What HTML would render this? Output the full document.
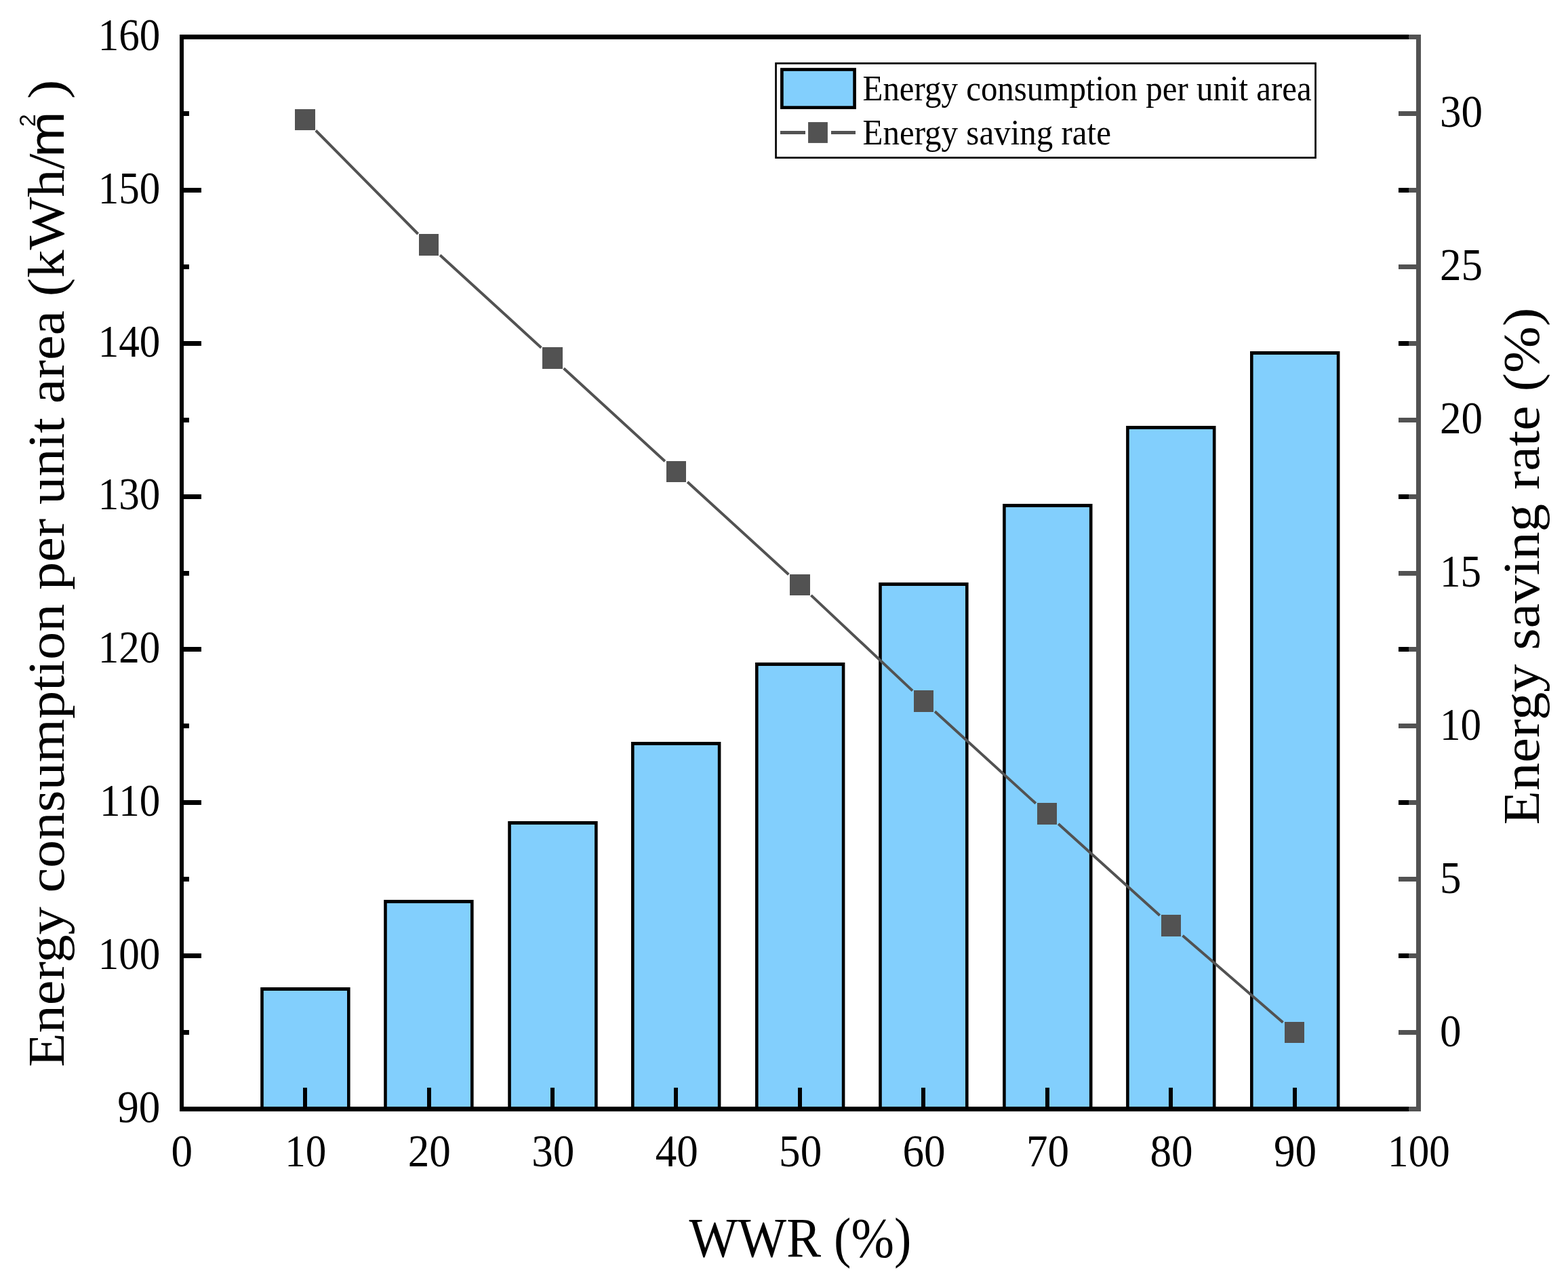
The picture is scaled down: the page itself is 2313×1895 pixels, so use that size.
<!DOCTYPE html><html><head><meta charset="utf-8"><title>WWR chart</title><style>
html,body{margin:0;padding:0;background:#fff;}svg{display:block;}
text{font-family:"Liberation Serif","Times New Roman",serif;fill:#000;}
.sans{font-family:"Liberation Sans",Arial,sans-serif;}
</style></head><body>
<svg width="2313" height="1895" viewBox="0 0 2313 1895">
<rect x="0" y="0" width="2313" height="1895" fill="#fff"/>
<rect x="384.2" y="1456" width="132.4" height="180" fill="#000"/>
<rect x="388.8" y="1461" width="123.2" height="175" fill="#82cffd"/>
<rect x="566.2" y="1327" width="132.4" height="309" fill="#000"/>
<rect x="570.8" y="1332" width="123.2" height="304" fill="#82cffd"/>
<rect x="749.25" y="1211" width="132.4" height="425" fill="#000"/>
<rect x="753.85" y="1216" width="123.2" height="420" fill="#82cffd"/>
<rect x="931" y="1094" width="132.4" height="542" fill="#000"/>
<rect x="935.6" y="1099" width="123.2" height="537" fill="#82cffd"/>
<rect x="1114" y="977" width="132.4" height="659" fill="#000"/>
<rect x="1118.6" y="982" width="123.2" height="654" fill="#82cffd"/>
<rect x="1296.2" y="859" width="132.4" height="777" fill="#000"/>
<rect x="1300.8" y="864" width="123.2" height="772" fill="#82cffd"/>
<rect x="1479.1" y="743" width="132.4" height="893" fill="#000"/>
<rect x="1483.7" y="748" width="123.2" height="888" fill="#82cffd"/>
<rect x="1661.1" y="628" width="132.4" height="1008" fill="#000"/>
<rect x="1665.7" y="633" width="123.2" height="1003" fill="#82cffd"/>
<rect x="1844" y="518" width="132.4" height="1118" fill="#000"/>
<rect x="1848.6" y="523" width="123.2" height="1113" fill="#82cffd"/>
<rect x="447" y="1604" width="6" height="28" fill="#000"/>
<rect x="630" y="1604" width="6" height="28" fill="#000"/>
<rect x="812" y="1604" width="6" height="28" fill="#000"/>
<rect x="994" y="1604" width="6" height="28" fill="#000"/>
<rect x="1177" y="1604" width="6" height="28" fill="#000"/>
<rect x="1359" y="1604" width="6" height="28" fill="#000"/>
<rect x="1542" y="1604" width="6" height="28" fill="#000"/>
<rect x="1724" y="1604" width="6" height="28" fill="#000"/>
<rect x="1907" y="1604" width="6" height="28" fill="#000"/>
<path d="M465.82 192.5L616.68 345M649.1 376.19L798.4 512.81M831.58 543.21L980.92 680.29M1014.1 710.69L1163.4 847.31M1196.4 877.91L1346.1 1018.59M1379.12 1049.16L1527.88 1184.84M1561.21 1215.07L1710.79 1349.93M1744.51 1379.72L1892.49 1507.78" stroke="#525252" stroke-width="4" fill="none" stroke-linecap="butt"/>
<rect x="435" y="161" width="30" height="31" fill="#525252"/>
<rect x="618" y="345" width="29" height="32" fill="#525252"/>
<rect x="800" y="512" width="30" height="32" fill="#525252"/>
<rect x="983" y="680" width="29" height="31" fill="#525252"/>
<rect x="1165" y="847" width="30" height="31" fill="#525252"/>
<rect x="1348" y="1018" width="29" height="32" fill="#525252"/>
<rect x="1530" y="1184" width="29" height="32" fill="#525252"/>
<rect x="1713" y="1349" width="29" height="32" fill="#525252"/>
<rect x="1895" y="1507" width="29" height="31" fill="#525252"/>
<rect x="265" y="51" width="6" height="1588" fill="#000"/>
<rect x="265" y="51" width="1813" height="7" fill="#000"/>
<rect x="265" y="1632" width="1813" height="7" fill="#000"/>
<rect x="2078" y="51" width="18" height="7" fill="#525252"/>
<rect x="2078" y="1632" width="18" height="7" fill="#525252"/>
<rect x="2089" y="51" width="7" height="1588" fill="#525252"/>
<rect x="265" y="1632" width="32" height="7" fill="#000"/>
<rect x="2063" y="1632" width="33" height="7" fill="#000"/>
<rect x="265" y="1519" width="14" height="7" fill="#000"/>
<rect x="265" y="1406" width="32" height="7" fill="#000"/>
<rect x="2063" y="1406" width="33" height="7" fill="#000"/>
<rect x="265" y="1293" width="14" height="7" fill="#000"/>
<rect x="265" y="1180" width="32" height="7" fill="#000"/>
<rect x="2063" y="1180" width="33" height="7" fill="#000"/>
<rect x="265" y="1067" width="14" height="7" fill="#000"/>
<rect x="265" y="954" width="32" height="7" fill="#000"/>
<rect x="2063" y="954" width="33" height="7" fill="#000"/>
<rect x="265" y="842" width="14" height="7" fill="#000"/>
<rect x="265" y="729" width="32" height="7" fill="#000"/>
<rect x="2063" y="729" width="33" height="7" fill="#000"/>
<rect x="265" y="616" width="14" height="7" fill="#000"/>
<rect x="265" y="503" width="32" height="7" fill="#000"/>
<rect x="2063" y="503" width="33" height="7" fill="#000"/>
<rect x="265" y="390" width="14" height="7" fill="#000"/>
<rect x="265" y="277" width="32" height="7" fill="#000"/>
<rect x="2063" y="277" width="33" height="7" fill="#000"/>
<rect x="265" y="164" width="14" height="7" fill="#000"/>
<rect x="265" y="51" width="32" height="7" fill="#000"/>
<rect x="2063" y="51" width="33" height="7" fill="#000"/>
<rect x="2078" y="1632" width="18" height="7" fill="#525252"/>
<rect x="2063" y="1519" width="33" height="7" fill="#525252"/>
<rect x="2078" y="1406" width="18" height="7" fill="#525252"/>
<rect x="2063" y="1293" width="33" height="7" fill="#525252"/>
<rect x="2078" y="1180" width="18" height="7" fill="#525252"/>
<rect x="2063" y="1067" width="33" height="7" fill="#525252"/>
<rect x="2078" y="954" width="18" height="7" fill="#525252"/>
<rect x="2063" y="842" width="33" height="7" fill="#525252"/>
<rect x="2078" y="729" width="18" height="7" fill="#525252"/>
<rect x="2063" y="616" width="33" height="7" fill="#525252"/>
<rect x="2078" y="503" width="18" height="7" fill="#525252"/>
<rect x="2063" y="390" width="33" height="7" fill="#525252"/>
<rect x="2078" y="277" width="18" height="7" fill="#525252"/>
<rect x="2063" y="164" width="33" height="7" fill="#525252"/>
<rect x="2078" y="51" width="18" height="7" fill="#525252"/>
<text transform="translate(236.36,1654.92) scale(0.9250,1.0000)" font-size="68.3" text-anchor="end">90</text>
<text transform="translate(236.36,1429.06) scale(0.8950,1.0000)" font-size="68.3" text-anchor="end">100</text>
<text transform="translate(236.36,1203.20) scale(0.8950,1.0000)" font-size="68.3" text-anchor="end">110</text>
<text transform="translate(236.36,977.34) scale(0.8950,1.0000)" font-size="68.3" text-anchor="end">120</text>
<text transform="translate(236.36,751.48) scale(0.8950,1.0000)" font-size="68.3" text-anchor="end">130</text>
<text transform="translate(236.36,525.62) scale(0.8950,1.0000)" font-size="68.3" text-anchor="end">140</text>
<text transform="translate(236.36,299.76) scale(0.8950,1.0000)" font-size="68.3" text-anchor="end">150</text>
<text transform="translate(236.36,73.90) scale(0.8950,1.0000)" font-size="68.3" text-anchor="end">160</text>
<text transform="translate(2123.96,1542.50) scale(0.9250,1.0000)" font-size="68.3" text-anchor="start">0</text>
<text transform="translate(2123.96,1316.65) scale(0.9250,1.0000)" font-size="68.3" text-anchor="start">5</text>
<text transform="translate(2123.96,1090.80) scale(0.8950,1.0000)" font-size="68.3" text-anchor="start">10</text>
<text transform="translate(2123.96,864.95) scale(0.8950,1.0000)" font-size="68.3" text-anchor="start">15</text>
<text transform="translate(2123.96,639.10) scale(0.9250,1.0000)" font-size="68.3" text-anchor="start">20</text>
<text transform="translate(2123.96,413.25) scale(0.9250,1.0000)" font-size="68.3" text-anchor="start">25</text>
<text transform="translate(2123.96,187.40) scale(0.9250,1.0000)" font-size="68.3" text-anchor="start">30</text>
<text transform="translate(268.40,1720.00) scale(0.9250,1.0000)" font-size="68.3" text-anchor="middle">0</text>
<text transform="translate(450.85,1720.00) scale(0.8950,1.0000)" font-size="68.3" text-anchor="middle">10</text>
<text transform="translate(633.30,1720.00) scale(0.9250,1.0000)" font-size="68.3" text-anchor="middle">20</text>
<text transform="translate(815.75,1720.00) scale(0.9250,1.0000)" font-size="68.3" text-anchor="middle">30</text>
<text transform="translate(998.20,1720.00) scale(0.9250,1.0000)" font-size="68.3" text-anchor="middle">40</text>
<text transform="translate(1180.65,1720.00) scale(0.9250,1.0000)" font-size="68.3" text-anchor="middle">50</text>
<text transform="translate(1363.10,1720.00) scale(0.9250,1.0000)" font-size="68.3" text-anchor="middle">60</text>
<text transform="translate(1545.55,1720.00) scale(0.9250,1.0000)" font-size="68.3" text-anchor="middle">70</text>
<text transform="translate(1728.00,1720.00) scale(0.9250,1.0000)" font-size="68.3" text-anchor="middle">80</text>
<text transform="translate(1910.45,1720.00) scale(0.9250,1.0000)" font-size="68.3" text-anchor="middle">90</text>
<text transform="translate(2092.90,1720.00) scale(0.8950,1.0000)" font-size="68.3" text-anchor="middle">100</text>
<text transform="translate(1016.40,1853.40) scale(0.9190,1.0000)" font-size="82.9" text-anchor="start">WWR (%)</text>
<text transform="translate(2269.70,1216.60) rotate(-90) scale(0.9961,0.9290)" font-size="83" text-anchor="start">Energy saving rate (%)</text>
<text transform="translate(93.50,1573.81) rotate(-90) scale(0.9937,0.9250)" font-size="83" text-anchor="start">Energy consumption per unit area (kWh/</text>
<text transform="translate(93.50,231.86) rotate(-90) scale(1.0110,0.9250)" font-size="80" text-anchor="start" class="sans">m</text>
<text transform="translate(52.06,187.11) rotate(-90) scale(0.9667,0.9250)" font-size="35" text-anchor="start" class="sans">2</text>
<text transform="translate(93.50,145.91) rotate(-90) scale(1.0301,0.9250)" font-size="83" text-anchor="start">)</text>
<rect x="1144.55" y="93.45" width="796" height="139.1" fill="#fff" stroke="#000" stroke-width="2.7"/>
<rect x="1153.4" y="102.5" width="107.2" height="56.1" fill="#82cffd" stroke="#000" stroke-width="4.7"/>
<rect x="1151" y="193" width="37" height="5" fill="#525252"/>
<rect x="1226" y="193" width="36" height="5" fill="#525252"/>
<rect x="1192.1" y="180.1" width="28.8" height="30.8" fill="#525252"/>
<text transform="translate(1272.50,148.05) scale(0.9430,1.0000)" font-size="51.9" text-anchor="start">Energy consumption per unit area</text>
<text transform="translate(1272.50,213.00) scale(0.9426,1.0000)" font-size="52" text-anchor="start">Energy saving rate</text>
</svg></body></html>
